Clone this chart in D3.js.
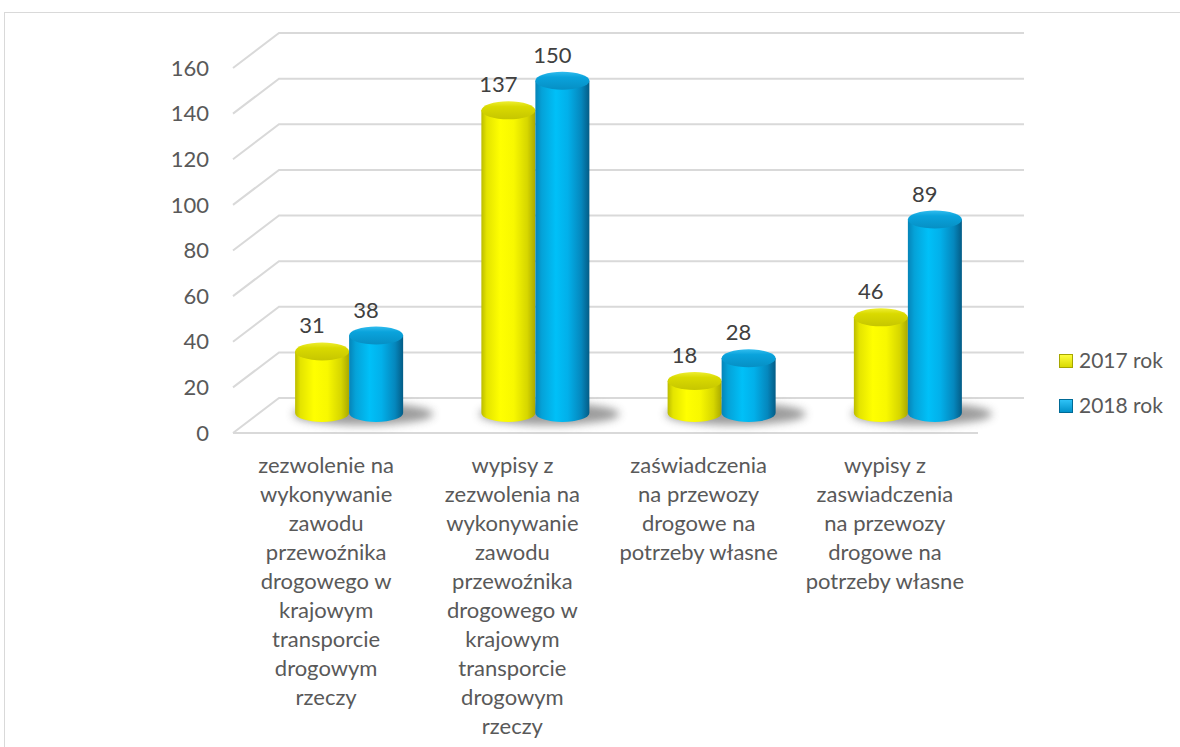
<!DOCTYPE html>
<html>
<head>
<meta charset="utf-8">
<script src="https://cdn.jsdelivr.net/npm/d3@7"></script>
<style>
  html, body { margin: 0; padding: 0; background: #fff; }
  svg { display: block; font-family: Lato, "Open Sans", sans-serif; }
</style>
</head>
<body>
<svg id="chart" width="1180" height="747"></svg>
<script>
const categories = ['c1', 'c2', 'c3', 'c4'];
const categoryLines = [
  ['zezwolenie na', 'wykonywanie', 'zawodu', 'przewoźnika', 'drogowego w', 'krajowym', 'transporcie', 'drogowym', 'rzeczy'],
  ['wypisy z', 'zezwolenia na', 'wykonywanie', 'zawodu', 'przewoźnika', 'drogowego w', 'krajowym', 'transporcie', 'drogowym', 'rzeczy'],
  ['zaświadczenia', 'na przewozy', 'drogowe na', 'potrzeby własne'],
  ['wypisy z', 'zaswiadczenia', 'na przewozy', 'drogowe na', 'potrzeby własne']
];
const seriesNames = ['2017 rok', '2018 rok'];
const values2017 = [31, 137, 18, 46];
const values2018 = [38, 150, 28, 89];
const yTicks = [0, 20, 40, 60, 80, 100, 120, 140, 160];

const svg = d3.select('#chart');
const defs = svg.append('defs');

// 3d box: front plane, back plane offset
const depthX = 46, depthY = -35;
const front = { left: 233, right: 978 };
const yFront = d3.scaleLinear().domain([0, 160]).range([433, 68]);
const yBack = (v) => yFront(v) + depthY;
// bars sit half way into the box
const yBar = d3.scaleLinear().domain([0, 160]).range([422, 58]);
const barBase = 413;
const ry = 9;

const x0 = d3.scaleBand()
  .domain(categories)
  .range([front.left + depthX / 2, front.right + depthX / 2])
  .paddingInner(0.42)
  .paddingOuter(0.21);
const x1 = d3.scaleBand().domain(seriesNames).range([0, x0.bandwidth()]);

// frame
svg.append('rect')
  .attr('x', 4.5).attr('y', 12.5)
  .attr('width', 1300).attr('height', 900)
  .attr('fill', 'none').attr('stroke', '#d9d9d9');

// gradients
function hGrad(id, stops) {
  const g = defs.append('linearGradient').attr('id', id)
    .attr('x1', '0%').attr('x2', '100%').attr('y1', '0%').attr('y2', '0%');
  stops.forEach(([o, c]) => g.append('stop').attr('offset', o).attr('stop-color', c));
}
function vGrad(id, stops) {
  const g = defs.append('linearGradient').attr('id', id)
    .attr('x1', '0%').attr('x2', '0%').attr('y1', '0%').attr('y2', '100%');
  stops.forEach(([o, c]) => g.append('stop').attr('offset', o).attr('stop-color', c));
}
hGrad('yBody', [['0%', '#bcbc00'], ['10%', '#e4e400'], ['35%', '#ffff00'], ['60%', '#f8f800'], ['85%', '#d6d600'], ['100%', '#a9a900']]);
vGrad('yTop', [['0%', '#eeee30'], ['30%', '#dada00'], ['100%', '#c6c600']]);
hGrad('bBody', [['0%', '#0584b8'], ['12%', '#05a2d8'], ['38%', '#00c0f8'], ['60%', '#02b0ea'], ['85%', '#0587bd'], ['100%', '#045c86']]);
vGrad('bTop', [['0%', '#30bcee'], ['30%', '#0aa3dc'], ['100%', '#068fc4']]);
vGrad('yLeg', [['0%', '#ffff40'], ['100%', '#d8d800']]);
vGrad('bLeg', [['0%', '#30c4f8'], ['100%', '#0090c8']]);

const blur = defs.append('filter').attr('id', 'shadowBlur')
  .attr('x', '-50%').attr('y', '-100%').attr('width', '200%').attr('height', '300%');
blur.append('feGaussianBlur').attr('stdDeviation', 4);

// gridlines
const grid = svg.append('g');
yTicks.forEach((t) => {
  grid.append('path')
    .attr('d', `M${front.left},${yFront(t)} L${front.left + depthX},${yBack(t)} L${front.right + depthX},${yBack(t)}`)
    .attr('fill', 'none').attr('stroke', '#d9d9d9').attr('stroke-width', 2);
});
grid.append('path')
  .attr('d', `M${front.left},${yFront(0)} L${front.right},${yFront(0)}`)
  .attr('fill', 'none').attr('stroke', '#d9d9d9').attr('stroke-width', 2);

// y tick labels
svg.append('g').selectAll('text')
  .data(yTicks)
  .enter()
  .append('text')
  .attr('x', 209)
  .attr('y', (d) => yFront(d))
  .attr('dy', '0.35em')
  .attr('text-anchor', 'end')
  .attr('font-size', 22)
  .attr('fill', '#595959')
  .text((d) => d);

// bars
const seriesData = [
  { name: seriesNames[0], values: values2017, body: 'url(#yBody)', top: 'url(#yTop)' },
  { name: seriesNames[1], values: values2018, body: 'url(#bBody)', top: 'url(#bTop)' }
];

const bars = svg.append('g');
categories.forEach((c, i) => {
  const gx = x0(c);
  bars.append('ellipse')
    .attr('cx', gx + x0.bandwidth() / 2 + 14)
    .attr('cy', barBase + 1)
    .attr('rx', x0.bandwidth() / 2 + 16)
    .attr('ry', 11)
    .attr('fill', '#5a5a5a')
    .attr('opacity', 0.6)
    .attr('filter', 'url(#shadowBlur)');

  seriesData.forEach((s) => {
    const v = s.values[i];
    const w = x1.bandwidth();
    const rx = w / 2;
    const cx = gx + x1(s.name) + rx;
    const yTop = yBar(v);
    bars.append('path')
      .attr('d', `M${cx - rx},${yTop} L${cx - rx},${barBase} A${rx},${ry} 0 0 0 ${cx + rx},${barBase} L${cx + rx},${yTop} Z`)
      .attr('fill', s.body);
    bars.append('ellipse')
      .attr('cx', cx).attr('cy', yTop)
      .attr('rx', rx).attr('ry', ry)
      .attr('fill', s.top);
    bars.append('text')
      .attr('x', cx - 10)
      .attr('y', yTop - ry - 9)
      .attr('text-anchor', 'middle')
      .attr('font-size', 22)
      .attr('fill', '#404040')
      .text(v);
  });
});

// category labels
const labels = svg.append('g');
categories.forEach((c, i) => {
  const lx = x0(c) + x0.bandwidth() / 2 - depthX / 2;
  const t = labels.append('text')
    .attr('text-anchor', 'middle')
    .attr('font-size', 22)
    .attr('fill', '#595959');
  categoryLines[i].forEach((line, j) => {
    t.append('tspan')
      .attr('x', lx)
      .attr('y', 465 + j * 29)
      .attr('dy', '0.35em')
      .text(line);
  });
});

// legend
const legend = svg.append('g');
const legendFill = [['url(#yLeg)', '#a6a600'], ['url(#bLeg)', '#006a96']];
seriesNames.forEach((n, i) => {
  const ly = 361 + i * 45;
  legend.append('rect')
    .attr('x', 1059.5).attr('y', ly - 6.5)
    .attr('width', 13).attr('height', 13)
    .attr('fill', legendFill[i][0])
    .attr('stroke', legendFill[i][1]);
  legend.append('text')
    .attr('x', 1079)
    .attr('y', ly)
    .attr('dy', '0.35em')
    .attr('font-size', 21)
    .attr('fill', '#595959')
    .text(n);
});
</script>
</body>
</html>
